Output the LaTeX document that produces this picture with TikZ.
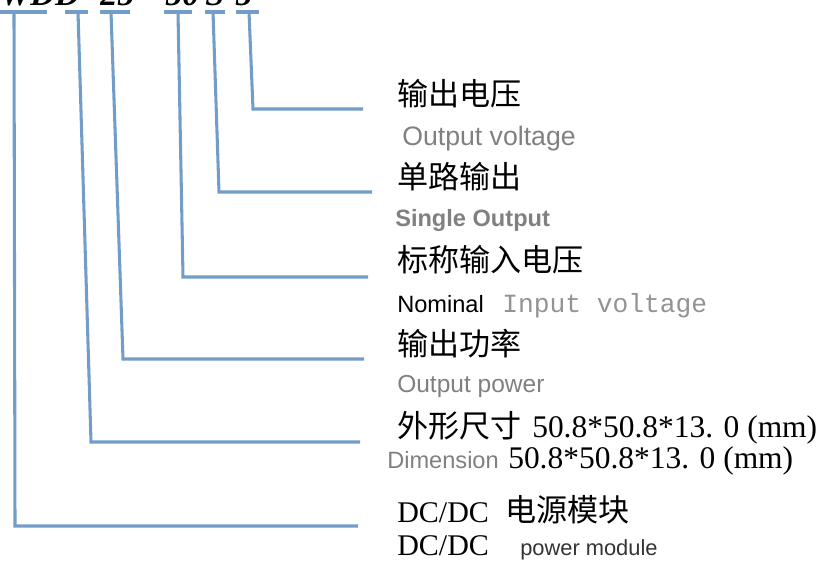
\documentclass[tikz,border=0pt]{standalone}
\usepackage{fontspec}
\setmainfont{Liberation Serif}
\setsansfont{Liberation Sans}
\setmonofont{Liberation Mono}
\newfontfamily\cjk{Noto Sans CJK SC}
\usetikzlibrary{positioning,calc}
\definecolor{leadblue}{RGB}{114,157,200}
\definecolor{engray}{RGB}{128,128,128}

\begin{document}
\begin{tikzpicture}[x=0.75pt,y=-0.75pt,
  lead/.style={draw=leadblue,line width=2.3pt},
  code/.style={anchor=base west,inner sep=0pt,font=\bfseries\itshape\fontsize{25.5}{30}\selectfont},
  cn/.style={anchor=base west,inner sep=0pt,font=\cjk\fontsize{23.3}{28}\selectfont},
  en/.style={anchor=base west,inner sep=0pt,text=engray,font=\sffamily\fontsize{17.7}{22}\selectfont},
  num/.style={anchor=base west,inner sep=0pt,font=\fontsize{23.6}{28}\selectfont}]
\useasboundingbox (0,0) rectangle (821,567);
\clip (0,0) rectangle (821,567);

% model code, only its lower edge is on the page
\node[code] (w)   at (0,6)   {WDD};
\node[code] (p)   at (100,6) {25};
\node[code] (vin) at (165,6) {50};
\node[code] (s)   at (205,6) {S};
\node[code] (v)   at (235,6) {5};

% labels
\node[cn] (cn6) at (397,105) {输出电压};
\node[en,font=\sffamily\fontsize{20}{24}\selectfont] (en6) at (402,145) {Output voltage};
\node[cn] (cn5) at (397,188) {单路输出};
\node[en,font=\sffamily\bfseries\fontsize{17.7}{22}\selectfont] (en5) at (395,226) {Single Output};
\node[cn] (cn4) at (397,271) {标称输入电压};
\node[en,text=black] (en4) at (397,312) {Nominal};
\node[en,font=\ttfamily\fontsize{19.7}{24}\selectfont,text=engray!85] (en4b) at (502,312) {Input voltage};
\node[cn] (cn3) at (397,355) {输出功率};
\node[en,font=\sffamily\fontsize{18.4}{22}\selectfont] (en3) at (397,392) {Output power};
\node[cn] (cn2) at (397,437) {外形尺寸};
\node[num] (cn2b) at (532,437) {50.8*50.8*13. 0 (mm)};
\node[en] (en2) at (387,468) {Dimension};
\node[num] (en2b) at (508,468) {50.8*50.8*13. 0 (mm)};
\node[num,font=\fontsize{22.5}{27}\selectfont] (cn1) at (397,522) {DC/DC};
\node[cn] (cn1b) at (505,521) {电源模块};
\node[num,font=\fontsize{22.5}{27}\selectfont] (en1) at (397,555) {DC/DC};
\node[en,text=black!80,font=\sffamily\fontsize{16.4}{20}\selectfont] (en1b) at (520,555) {power module};

% bars under the code
\foreach \a/\b in {0/47,65/88,100/130,164/192,205/225,236/259}
  \draw[lead] (\a,12) -- (\b,12);

% leaders from the code to the labels
\foreach \i/\tx/\cx/\cy/\ex in {1/14/15/526/358,2/78/91/442/360,3/111/123/359/364,
                               4/178/183/277/368,5/213/219/192/372,6/249/253/109/363} {
  \coordinate (t\i) at (\tx,12);
  \coordinate (e\i) at (\ex,\cy);
  \draw[lead] (t\i) -- (\cx,\cy) -- (e\i);
}
\end{tikzpicture}
\end{document}
